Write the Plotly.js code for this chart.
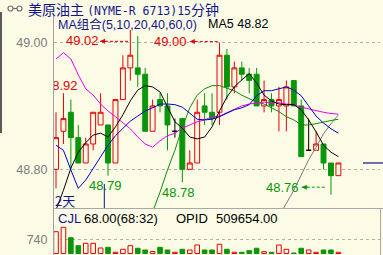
<!DOCTYPE html>
<html>
<head>
<meta charset="utf-8">
<script src="https://cdn.plot.ly/plotly-3.0.1.min.js"></script>
<style>
  html, body { margin: 0; padding: 0; background: #fcfce6; }
  #chart { width: 383px; height: 255px; }
</style>
</head>
<body>
<div id="chart"></div>
<script>
// 15-minute bars, oldest first
const opens  = [48.80, 48.86, 48.89, 48.85, 48.81, 48.84, 48.87, 48.87, 48.81, 48.91,
                48.96, 48.96, 48.95, 48.86, 48.91, 48.90, 48.86, 48.88, 48.80, 48.81,
                48.90, 48.89, 48.89, 48.98, 48.93, 48.96, 48.95, 48.95, 48.90, 48.91,
                48.90, 48.90, 48.94, 48.90, 48.83, 48.83, 48.84, 48.81, 48.79];
const highs  = [48.89, 48.92, 48.91, 48.87, 48.85, 48.89, 48.92, 48.87, 48.91, 48.98,
                49.02, 49.01, 48.96, 48.91, 48.92, 48.92, 48.88, 48.88, 48.83, 48.91,
                48.92, 48.92, 49.00, 48.99, 48.97, 48.97, 48.96, 48.96, 48.94, 48.92,
                48.93, 48.94, 48.94, 48.91, 48.88, 48.86, 48.84, 48.81, 48.81];
const lows   = [48.77, 48.84, 48.80, 48.81, 48.81, 48.83, 48.87, 48.79, 48.81, 48.91,
                48.94, 48.93, 48.86, 48.86, 48.89, 48.83, 48.85, 48.78, 48.80, 48.81,
                48.87, 48.87, 48.87, 48.91, 48.92, 48.94, 48.92, 48.90, 48.89, 48.89,
                48.86, 48.86, 48.90, 48.82, 48.83, 48.83, 48.80, 48.76, 48.79];
const closes = [48.85, 48.88, 48.85, 48.81, 48.84, 48.89, 48.89, 48.81, 48.91, 48.96,
                48.98, 48.95, 48.86, 48.90, 48.90, 48.87, 48.86, 48.80, 48.81, 48.89,
                48.89, 48.88, 48.98, 48.93, 48.96, 48.95, 48.94, 48.90, 48.91, 48.90,
                48.91, 48.93, 48.90, 48.82, 48.83, 48.84, 48.81, 48.79, 48.81];
const volumes = [1193, 1434, 866, 429, 560, 560, 303, 341, 68, 232,
                 429, 287, 194, 112, 341, 194, 68, 232, 194, 467,
                 194, 194, 505, 232, 68, 68, 155, 287, 101, 68,
                 467, 232, 30, 287, 194, 68, 194, 194, 68];

// moving averages (5,10,20,40,60)
const ma5  = [48.736, 48.767, 48.802, 48.827, 48.842, 48.854, 48.857, 48.851, 48.867, 48.886,
              48.908, 48.925, 48.932, 48.930, 48.922, 48.898, 48.875, 48.865, 48.851, 48.848,
              48.851, 48.867, 48.892, 48.914, 48.930, 48.941, 48.951, 48.936, 48.917, 48.908,
              48.903, 48.902, 48.902, 48.894, 48.878, 48.859, 48.838, 48.827, 48.82];
const ma10 = [48.838, 48.830, 48.799, 48.770, 48.783, 48.802, 48.821, 48.838, 48.853, 48.865,
              48.876, 48.884, 48.892, 48.897, 48.903, 48.903, 48.902, 48.898, 48.889, 48.879,
              48.878, 48.879, 48.883, 48.889, 48.894, 48.897, 48.902, 48.916, 48.924, 48.924,
              48.927, 48.930, 48.925, 48.916, 48.900, 48.884, 48.873, 48.864, 48.857];
const ma20 = [48.974, 48.984, 48.974, 48.949, 48.927, 48.917, 48.903, 48.892, 48.883, 48.873,
              48.864, 48.851, 48.840, 48.835, 48.845, 48.853, 48.857, 48.865, 48.870, 48.875,
              48.878, 48.883, 48.884, 48.889, 48.894, 48.900, 48.903, 48.905, 48.906, 48.905,
              48.905, 48.903, 48.902, 48.898, 48.895, 48.892, 48.890, 48.888, 48.887];
const ma40 = [null, null, null, null, null, null, null, null, null, null,
              null, null, null, 48.733, 48.764, 48.799, 48.830, 48.866, 48.897, 48.917,
              48.927, 48.932, 48.932, 48.928, 48.924, 48.917, 48.911, 48.906, 48.903, 48.897,
              48.891, 48.883, 48.878, 48.870, 48.870, 48.872, 48.875, 48.877, 48.879];
const ma60 = [null, null, null, null, null, null, null, null, null, null,
              null, null, null, null, null, null, null, null, null, null,
              null, null, null, null, null, null, null, null, null, null,
              48.726, 48.747, 48.767, 48.791, 48.815, 48.835, 48.856, 48.872, 48.886];

const priceTicks = [48.80, 49.00];
const volumeTicks = [740];
const contractTitle = '美原油主';
const contractCode = '(NYME-R 6713)';
const periodText = '15分钟';
const maHeader = 'MA组合(5,10,20,40,60,0)';
const openInterest = 509654.00;
const volumeClock = '(68:32)';
const dayTag = '2天';

// ---------- page geometry ----------
const W = 383, H = 255;
const px = x => x / W;          // pixel column -> paper x
const py = y => 1 - y / H;      // pixel row    -> paper y
const BG = '#fcfce6';
const RED = '#e60000';
const GREEN = '#0a960a';
const NAVY = '#14148c';
const SANS = 'Liberation Sans, Arial, Noto Sans CJK SC, sans-serif';
const CJK = 'Noto Sans CJK SC, sans-serif';
const MONO = 'DejaVu Sans Mono, Liberation Mono, monospace';

const barIdx = opens.map((_, i) => i);
const last = barIdx.length - 1;

function group(test) {
  const g = {x: [], open: [], high: [], low: [], close: []};
  barIdx.forEach(i => {
    if (test(closes[i], opens[i])) {
      g.x.push(i); g.open.push(opens[i]); g.high.push(highs[i]);
      g.low.push(lows[i]); g.close.push(closes[i]);
    }
  });
  return g;
}
function candles(g, incLine, incFill, decLine, decFill) {
  return Object.assign({
    type: 'candlestick', xaxis: 'x', yaxis: 'y', hoverinfo: 'skip', whiskerwidth: 0,
    increasing: {line: {color: incLine, width: 1}, fillcolor: incFill},
    decreasing: {line: {color: decLine, width: 1}, fillcolor: decFill}
  }, g);
}
function maLine(vals, color) {
  return {type: 'scatter', mode: 'lines', x: barIdx, y: vals, xaxis: 'x', yaxis: 'y',
          line: {color: color, width: 1}, hoverinfo: 'skip', connectgaps: false};
}

const volUp = barIdx.filter(i => closes[i] >= opens[i]);
const volDown = barIdx.filter(i => closes[i] < opens[i]);

const traces = [
  {type: 'bar', x: volUp, y: volUp.map(i => volumes[i]), xaxis: 'x', yaxis: 'y2', width: 0.62,
   marker: {color: BG, line: {color: RED, width: 1}}, hoverinfo: 'skip'},
  {type: 'bar', x: volDown, y: volDown.map(i => volumes[i]), xaxis: 'x', yaxis: 'y2', width: 0.62,
   marker: {color: GREEN, line: {color: GREEN, width: 1}}, hoverinfo: 'skip'},
  candles(group((c, o) => c > o), RED, BG, RED, BG),
  candles(group((c, o) => c < o), GREEN, GREEN, GREEN, GREEN),
  candles(group((c, o) => c === o), '#000000', '#000000', '#000000', '#000000'),
  maLine(ma60, '#7a7a7a'),
  maLine(ma40, '#108a10'),
  maLine(ma20, '#ee00ee'),
  maLine(ma10, '#0000cc'),
  maLine(ma5, '#000000'),
  // high of bar 1, its label partly hidden behind the price scale
  {type: 'scatter', mode: 'text', x: [0.7], y: [highs[1]], text: [highs[1].toFixed(2)],
   textposition: 'top center', cliponaxis: true, hoverinfo: 'skip',
   textfont: {family: SANS, size: 13, color: RED}}
];

// extreme-price labels: bar, value, label centre, arrow head / tail (bar units) and pixel offsets
const extremes = [
  {bar: 10, value: highs[10], color: RED,   cx: 3.57,  shift: -11,  head: 5.92,  tail: 9.73,  arrowShift: -11.5},
  {bar: 22, value: highs[22], color: RED,   cx: 15.45, shift: 1.5,  head: 18.0,  tail: 21.84, arrowShift: 1},
  {bar: 7,  value: lows[7],   color: GREEN, cx: 6.6,   shift: -9.5},
  {bar: 17, value: lows[17],  color: GREEN, cx: 16.46, shift: -10},
  {bar: 37, value: lows[37],  color: GREEN, cx: 30.48, shift: 7,    head: 33.07, tail: 36.43, arrowShift: 7.5}
];

const annotations = [];
const shapes = [];

extremes.forEach(e => {
  annotations.push({xref: 'x', yref: 'y', x: e.cx, y: e.value, yshift: e.shift, showarrow: false,
    text: e.value.toFixed(2), font: {family: SANS, size: 13, color: e.color},
    xanchor: 'center', yanchor: 'middle'});
  if (e.head !== undefined) {
    shapes.push({type: 'line', xref: 'x', yref: 'y', ysizemode: 'pixel', yanchor: e.value,
      x0: e.head, x1: e.tail, y0: e.arrowShift, y1: e.arrowShift,
      line: {color: e.color, width: 1, dash: '3px,2px'}});
    annotations.push({xref: 'x', yref: 'y', x: e.head, y: e.value, yshift: e.arrowShift,
      showarrow: true, text: ' ', ax: 9, ay: 0, arrowhead: 2, arrowsize: 1, arrowwidth: 1,
      arrowcolor: e.color, font: {size: 6}});
  }
});

// header rows
function label(x, y, text, color, size, family) {
  annotations.push({xref: 'paper', yref: 'paper', x: px(x), y: py(y), text: text,
    showarrow: false, xanchor: 'left', yanchor: 'middle',
    font: {family: family || SANS, size: size || 13, color: color}});
}
label(26, 9.5, contractTitle + ' <span style="font-family:' + MONO + ';font-size:11.5px">' + contractCode +
      '15</span>' + '分钟', NAVY, 14, CJK);
label(56, 24, maHeader, NAVY, 12.5);
label(206, 24, 'MA5 ' + ma5[last].toFixed(2), '#000000', 12.5);
label(56, 218, 'CJL', NAVY, 13);
label(82, 218, volumes[last].toFixed(2) + volumeClock, '#000000', 13);
label(174, 218, 'OPID', '#000000', 13);
label(214, 218, openInterest.toFixed(2), '#000000', 13);
label(53, 200, dayTag, NAVY, 13, CJK);

// link icon in front of the contract name
shapes.push(
  {type: 'circle', xref: 'paper', yref: 'paper', x0: px(8), x1: px(13), y0: py(11), y1: py(6),
   line: {color: '#6e6e6e', width: 1.2}},
  {type: 'circle', xref: 'paper', yref: 'paper', x0: px(17), x1: px(22), y0: py(11), y1: py(6),
   line: {color: '#6e6e6e', width: 1.2}},
  {type: 'line', xref: 'paper', yref: 'paper', x0: px(13), x1: px(17), y0: py(8.5), y1: py(8.5),
   line: {color: '#6e6e6e', width: 1.2}}
);

// frame pieces
shapes.push(
  {type: 'rect', xref: 'paper', yref: 'paper', x0: 0, x1: px(2), y0: py(133), y1: py(12),
   fillcolor: '#5a5a5a', line: {width: 0}},
  {type: 'line', xref: 'paper', yref: 'paper', x0: px(54), x1: 1, y0: py(208.5), y1: py(208.5),
   line: {color: '#a8a8a8', width: 1}},
  {type: 'line', xref: 'paper', yref: 'paper', x0: px(380.5), x1: px(380.5), y0: 0, y1: py(208.5),
   line: {color: '#a8a8a8', width: 1}},
  // trading-day break
  {type: 'line', xref: 'x', yref: 'y', x0: 6.5, x1: 6.5, y0: 48.777, y1: 48.70,
   line: {color: '#101080', width: 1}},
  // last price marker on the right edge
  {type: 'line', xref: 'paper', yref: 'y', x0: px(363), x1: 1, y0: closes[last], y1: closes[last],
   line: {color: '#101080', width: 1.2}}
);

const layout = {
  width: W, height: H,
  margin: {l: 0, r: 0, t: 0, b: 0},
  paper_bgcolor: BG, plot_bgcolor: BG,
  showlegend: false,
  barmode: 'overlay',
  boxgap: 0.34, boxgroupgap: 0,
  xaxis: {domain: [px(54), px(380)], range: [-0.27, 43.6], anchor: 'y',
          showgrid: false, zeroline: false, showticklabels: false, ticks: '',
          showline: false, rangeslider: {visible: false}, fixedrange: true},
  yaxis: {domain: [py(208), py(14)], range: [48.739, 49.045], anchor: 'x',
          tickvals: priceTicks, ticktext: priceTicks.map(v => v.toFixed(2)),
          ticks: '', ticklabelstandoff: 3,
          tickfont: {family: SANS, size: 12.5, color: '#7c7c7c'},
          showgrid: true, gridcolor: '#b0b0b0', griddash: '3px,3px', gridwidth: 1,
          zeroline: false, showline: true, linecolor: '#a0a0a0', linewidth: 1, fixedrange: true},
  yaxis2: {domain: [0, py(208)], range: [-80, 2488], anchor: 'x',
           tickvals: volumeTicks, ticktext: volumeTicks.map(String),
           ticks: '', ticklabelstandoff: 3,
           tickfont: {family: SANS, size: 12.5, color: '#7c7c7c'},
           showgrid: true, gridcolor: '#b0b0b0', griddash: '3px,3px', gridwidth: 1,
           zeroline: false, showline: true, linecolor: '#a0a0a0', linewidth: 1, fixedrange: true},
  annotations: annotations,
  shapes: shapes
};

Plotly.newPlot('chart', traces, layout, {staticPlot: true, displayModeBar: false});
</script>
</body>
</html>
